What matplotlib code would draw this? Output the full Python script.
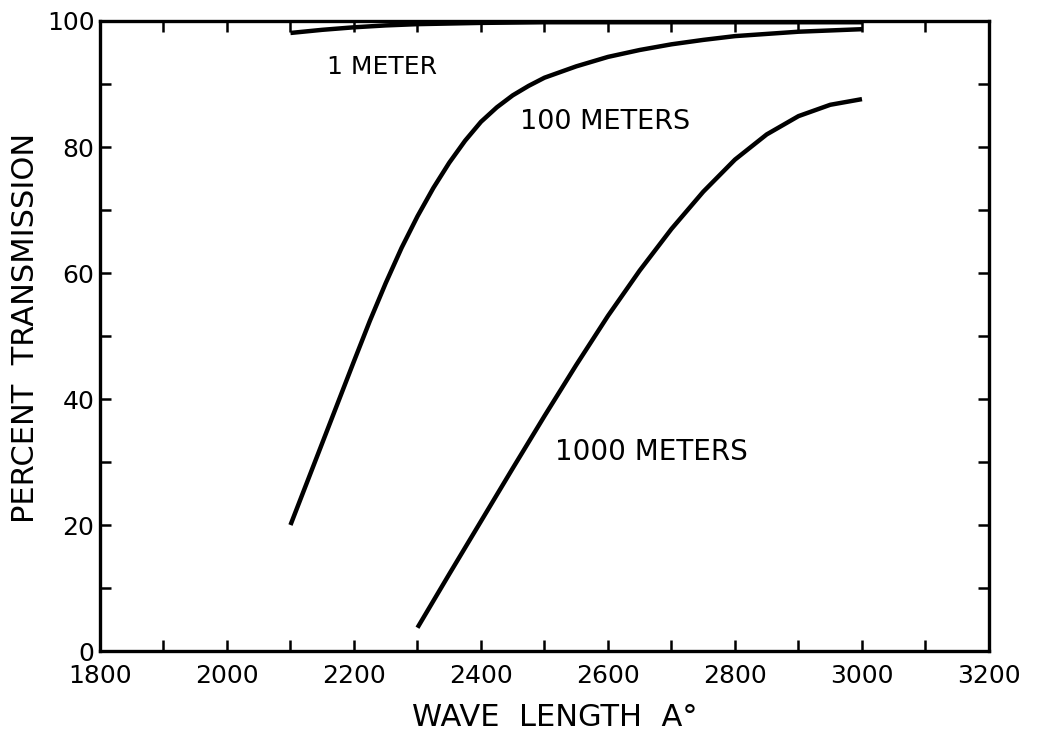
import matplotlib
matplotlib.use('Agg')
import matplotlib.pyplot as plt
from matplotlib.ticker import MultipleLocator

# curve data (wavelength in Angstrom, percent transmission)
wl_1m = [2100, 2150, 2200, 2250, 2300, 2400, 2500, 2600, 2700, 2800, 2900, 3000]
tr_1m = [98.1, 98.6, 99.0, 99.3, 99.5, 99.7, 99.8, 99.8, 99.8, 99.8, 99.8, 99.8]

wl_100m = [2100, 2125, 2150, 2175, 2200, 2225, 2250, 2275, 2300, 2325, 2350, 2375,
           2400, 2425, 2450, 2475, 2500, 2550, 2600, 2650, 2700, 2750, 2800, 2900, 3000]
tr_100m = [20.0, 26.5, 33.0, 39.5, 46.0, 52.4, 58.4, 64.0, 69.0, 73.5, 77.5, 81.0,
           84.0, 86.3, 88.2, 89.7, 91.0, 92.8, 94.3, 95.4, 96.3, 97.0, 97.6, 98.3, 98.7]

wl_1000m = [2300, 2350, 2400, 2450, 2500, 2550, 2600, 2650, 2700, 2750, 2800, 2850, 2900, 2950, 3000]
tr_1000m = [3.7, 12.2, 20.6, 29.0, 37.3, 45.4, 53.2, 60.4, 67.0, 72.9, 78.0, 82.0, 84.9, 86.7, 87.6]

x_ticks = [1800, 2000, 2200, 2400, 2600, 2800, 3000, 3200]
y_ticks = [0, 20, 40, 60, 80, 100]

plt.rcParams['font.family'] = ['DejaVu Sans']

fig = plt.figure(figsize=(10.37, 7.42), dpi=100)
ax = fig.add_axes([0.0964, 0.1226, 0.8573, 0.8491])

for wl, tr in [(wl_1m, tr_1m), (wl_100m, tr_100m), (wl_1000m, tr_1000m)]:
    ax.plot(wl, tr, color='black', lw=3.2, solid_capstyle='butt',
            solid_joinstyle='round', clip_on=False)

# curve labels
ax.text(2157, 92.7, '1 METER', fontsize=18, va='center', ha='left')
ax.text(2462, 84.0, '100 METERS', fontsize=19.5, va='center', ha='left')
ax.text(2517, 31.6, '1000 METERS', fontsize=20, va='center', ha='left')

ax.set_xlim(1800, 3200)
ax.set_ylim(0, 100)
ax.set_xticks(x_ticks)
ax.set_yticks(y_ticks)
ax.xaxis.set_minor_locator(MultipleLocator(100))
ax.yaxis.set_minor_locator(MultipleLocator(10))
ax.tick_params(which='both', direction='in', top=True, right=True,
               length=8, width=1.8, labelsize=18, pad=4)
ax.tick_params(axis='x', pad=9)
for lbl in ax.get_yticklabels():
    lbl.set_verticalalignment('center_baseline')

for s in ax.spines.values():
    s.set_linewidth(2.4)

ax.set_xlabel('WAVE  LENGTH  A°', fontsize=22)
ax.set_ylabel('PERCENT  TRANSMISSION', fontsize=22)
ax.xaxis.set_label_coords(0.512, -0.083)
ax.yaxis.set_label_coords(-0.068, 0.513)

fig.savefig('out.png', dpi=100)
